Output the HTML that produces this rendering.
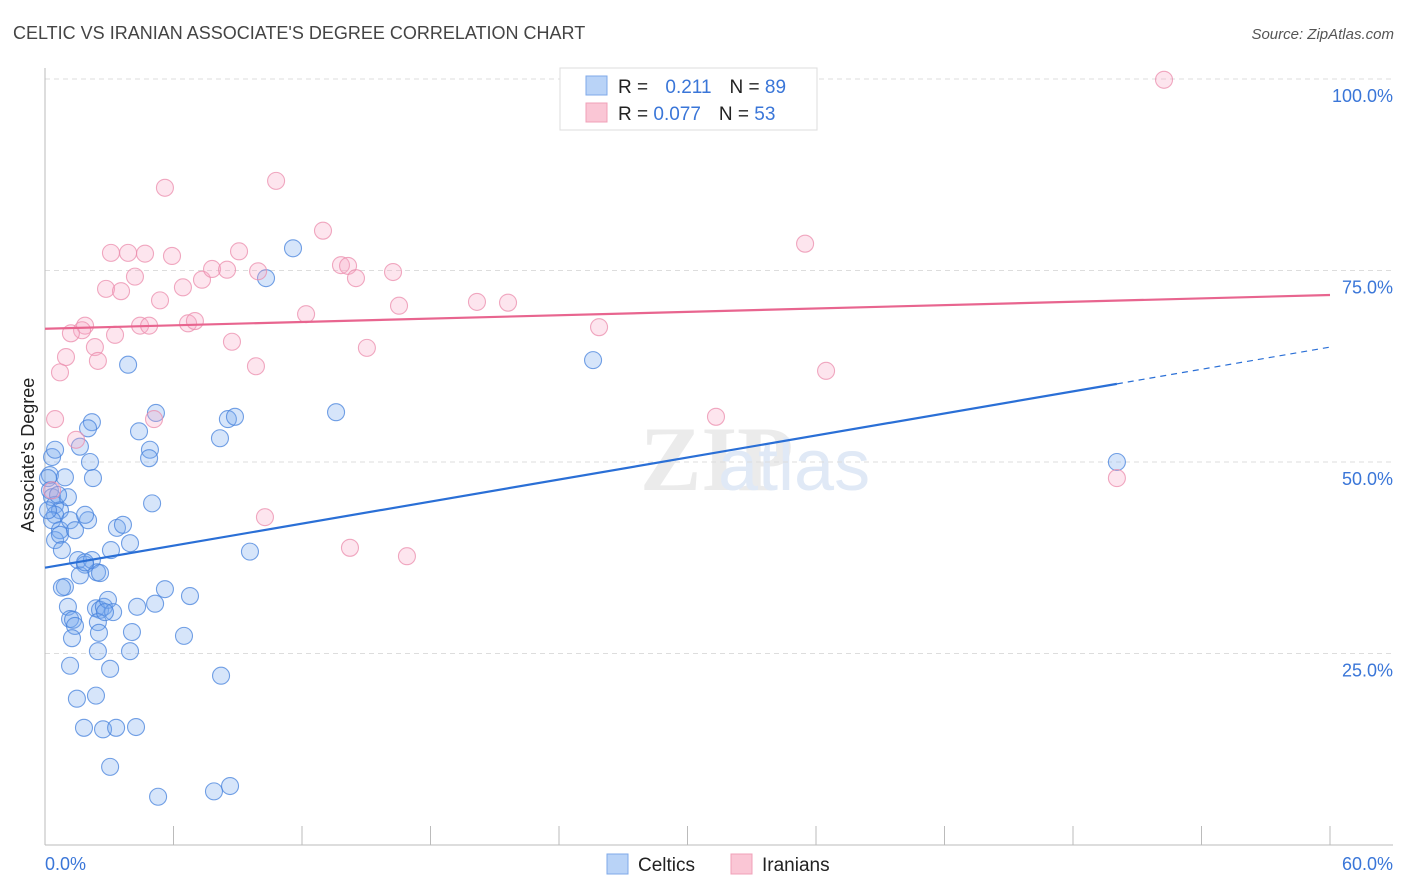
<!DOCTYPE html>
<html><head><meta charset="utf-8"><style>
body{margin:0;background:#fff;font-family:"Liberation Sans",sans-serif;}
svg{display:block}
</style></head><body>
<svg id="chart" width="1406" height="892">
<text x="13" y="39" font-size="18" fill="#444">CELTIC VS IRANIAN ASSOCIATE'S DEGREE CORRELATION CHART</text>
<text x="1394" y="39" font-size="15" fill="#555" font-style="italic" text-anchor="end">Source: ZipAtlas.com</text>
<text x="640" y="490" font-size="92" fill="#ebebeb" font-family="Liberation Serif,serif" font-weight="bold">ZIP</text>
<text x="718" y="490" font-size="72" fill="#e0e9f6">atlas</text>
<text transform="translate(34,455) rotate(-90)" font-size="18" fill="#222" text-anchor="middle">Associate's Degree</text>
<g id="grid"></g><g id="axes"></g><g id="pts"></g><g id="lines"></g>
<g>
<rect x="560" y="68" width="257" height="62" fill="#fff" stroke="#ddd"/>
<rect x="586" y="76" width="21" height="19" fill="#b9d3f7" stroke="#7fa9e8"/>
<rect x="586" y="103" width="21" height="19" fill="#fac6d5" stroke="#f0a0b8"/>
<text x="618" y="93" font-size="19" fill="#222">R = <tspan fill="#3a76d8" dx="12">0.211</tspan><tspan fill="#222" dx="18">N = </tspan><tspan fill="#3a76d8">89</tspan></text>
<text x="618" y="120" font-size="19" fill="#222">R = <tspan fill="#3a76d8">0.077</tspan><tspan fill="#222" dx="18">N = </tspan><tspan fill="#3a76d8">53</tspan></text>
</g>
<g>
<rect x="607" y="854" width="21" height="20" fill="#b9d3f7" stroke="#7fa9e8"/>
<text x="638" y="871" font-size="19" fill="#222">Celtics</text>
<rect x="731" y="854" width="21" height="20" fill="#fac6d5" stroke="#f0a0b8"/>
<text x="762" y="871" font-size="19" fill="#222">Iranians</text>
</g>
</svg>
<script>
const blueX=[0.33,0.23,0.14,0.23,0.33,0.47,0.70,1.07,0.93,1.63,2.10,2.19,2.01,0.47,0.33,0.70,1.17,2.01,1.87,0.47,0.70,0.79,1.54,1.87,2.19,2.43,1.63,0.93,3.08,3.36,3.64,3.97,3.88,4.39,4.90,5.18,4.86,5.00,1.07,1.17,1.31,1.40,1.26,2.38,2.57,2.75,2.94,3.18,2.47,2.52,2.47,3.04,1.17,1.49,2.38,1.82,2.71,3.32,4.25,3.04,5.28,7.89,8.64,4.30,5.14,5.60,6.77,4.06,3.97,6.49,8.22,9.57,8.17,8.54,8.87,10.32,11.58,13.59,25.59,50.05,1.87,1.40,0.61,0.14,2.57,2.80,0.79,0.47,2.24];
const blueY=[50.65,48.3,47.9,46.3,45.4,44.4,43.7,45.4,48.0,52.0,50.0,55.2,54.4,43.1,42.4,41.1,42.4,42.4,43.1,39.8,40.5,38.5,37.2,36.6,37.2,35.6,35.2,33.7,38.5,41.4,41.8,39.4,62.7,54.0,51.6,56.4,50.5,44.6,31.1,29.5,29.4,28.6,27.0,30.9,30.7,31.1,32.0,30.4,29.1,27.7,25.3,23.0,23.4,19.1,19.5,15.3,15.1,15.3,15.4,10.2,6.3,7.0,7.7,31.1,31.5,33.4,32.5,27.8,25.3,27.3,22.1,38.3,53.1,55.6,55.9,74.0,77.9,56.5,63.3,50.0,36.9,41.1,45.7,43.7,35.5,30.4,33.6,51.6,47.9];
const pinkX=[52.25,5.60,10.79,12.98,35.49,3.08,3.88,4.67,5.93,9.06,4.20,2.85,3.55,5.37,6.44,7.33,7.80,8.50,9.95,13.82,14.15,14.52,16.25,16.53,20.17,21.62,12.19,4.44,4.86,6.68,7.00,1.87,1.73,1.21,3.27,2.33,2.47,0.98,0.70,8.73,9.85,15.03,25.87,36.47,0.47,5.09,31.33,1.45,50.05,10.27,14.24,16.90,0.33];
const pinkY=[99.9,85.8,86.7,80.2,78.5,77.3,77.3,77.2,76.9,77.5,74.2,72.6,72.3,71.1,72.8,73.8,75.2,75.1,74.9,75.7,75.6,74.0,74.8,70.4,70.9,70.8,69.3,67.8,67.8,68.1,68.4,67.8,67.2,66.8,66.6,65.0,63.2,63.7,61.7,65.7,62.5,64.9,67.6,61.9,55.6,55.6,55.9,52.9,47.9,42.8,38.8,37.7,46.3];
const blueTrend=[36.2,60.2,65.0];
const pinkTrend=[67.4,71.8];
const yTicks=[25,50,75,100];
const yTickLabels=["25.0%","50.0%","75.0%","100.0%"];
const xTicks=[0,6,12,18,24,30,36,42,48,54,60];
const NS="http://www.w3.org/2000/svg";
const X=v=>45+v/60*1285, Y=v=>845-v/100*766;
function mk(p,t,a){const e=document.createElementNS(NS,t);for(const k in a)e.setAttribute(k,a[k]);document.getElementById(p).appendChild(e);return e;}
yTicks.forEach((t,i)=>{
 const g=mk('grid','line',{x1:45,x2:1393,y1:Y(t),y2:Y(t),stroke:'#ddd','stroke-dasharray':'5,4'});
 
 
 const l=mk('grid','text',{x:1393,y:Y(t)+23,'font-size':18,fill:'#3a76d8','text-anchor':'end'});
 l.textContent=yTickLabels[i];
 
 
});
const ax=mk('axes','line',{x1:45,x2:45,y1:68,y2:845,stroke:'#bbb'});


const bx=mk('axes','line',{x1:45,x2:1393,y1:845,y2:845,stroke:'#bbb'});


xTicks.forEach(t=>{
 const k=mk('axes','line',{x1:X(t),x2:X(t),y1:826,y2:845,stroke:'#bbb'});
 
 
});
const xl0=mk('axes','text',{x:45,y:870,'font-size':18,fill:'#3a76d8'});xl0.textContent='0.0%';


const xl1=mk('axes','text',{x:1393,y:870,'font-size':18,fill:'#3a76d8','text-anchor':'end'});xl1.textContent='60.0%';


blueX.forEach((x,i)=>{
 const c=mk('pts','circle',{cx:X(x),cy:Y(blueY[i]),r:8.5,fill:'rgba(120,170,240,0.3)',stroke:'rgba(70,130,220,0.75)','stroke-width':1.1});
 
 
});
pinkX.forEach((x,i)=>{
 const c=mk('pts','circle',{cx:X(x),cy:Y(pinkY[i]),r:8.5,fill:'rgba(248,170,198,0.3)',stroke:'rgba(235,140,172,0.75)','stroke-width':1.1});
 
 
});
const bl=mk('lines','line',{x1:X(0),y1:Y(blueTrend[0]),x2:X(50.05),y2:Y(blueTrend[1]),stroke:'#2a6fd6','stroke-width':2.2});


const bd=mk('lines','line',{x1:X(50.05),y1:Y(blueTrend[1]),x2:X(60),y2:Y(blueTrend[2]),stroke:'#2a6fd6','stroke-width':1.2,'stroke-dasharray':'6,5'});


const pl=mk('lines','line',{x1:X(0),y1:Y(pinkTrend[0]),x2:X(60),y2:Y(pinkTrend[1]),stroke:'#e8658f','stroke-width':2.2});


</script>
</body></html>
